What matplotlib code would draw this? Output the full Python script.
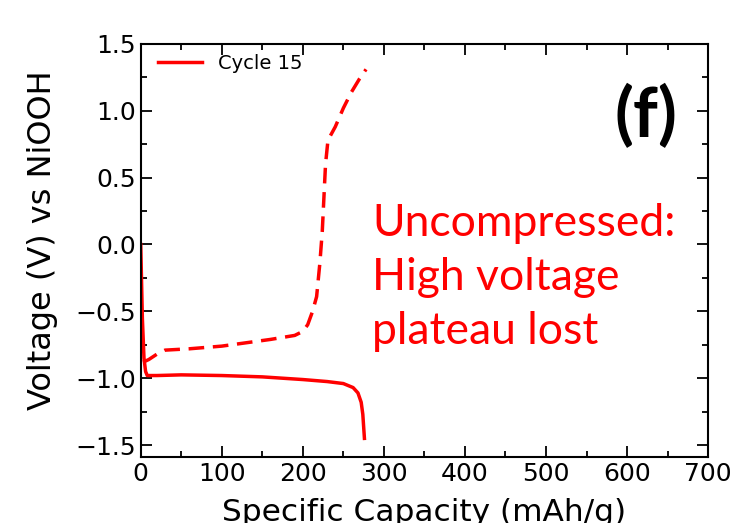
import matplotlib
matplotlib.use("Agg")
import matplotlib.pyplot as plt
from matplotlib.ticker import MultipleLocator

# discharge (solid) and charge (dashed) curves
dis_cap = [0, 2, 4, 6, 8, 20, 50, 100, 150, 200, 230, 250, 262, 268, 272, 274, 275, 276]
dis_v = [0.0, -0.55, -0.85, -0.95, -0.98, -0.98, -0.975, -0.98, -0.99, -1.01, -1.025, -1.04, -1.07, -1.11, -1.18, -1.27, -1.36, -1.45]

chg_cap = [3, 10, 20, 30, 60, 100, 160, 190, 200, 206, 212, 217, 221, 224, 226, 228, 231, 240, 250, 260, 270, 278]
chg_v = [-0.88, -0.86, -0.82, -0.79, -0.78, -0.76, -0.71, -0.68, -0.65, -0.6, -0.5, -0.39, -0.14, 0.1, 0.35, 0.6, 0.78, 0.88, 1.02, 1.14, 1.24, 1.31]

legend_label = "Cycle 15"
panel_tag = "(f)"
note = "Uncompressed:\nHigh voltage\nplateau lost"

fig = plt.figure(figsize=(7.33, 5.23), dpi=100)
ax = fig.add_axes([0.192, 0.126, 0.774, 0.790])

ax.plot(dis_cap, dis_v, color="red", lw=2.5, label=legend_label)
ax.plot(chg_cap, chg_v, color="red", lw=2.5, ls=(0, (4.5, 2.5)))

ax.set_xlim(0, 700)
ax.set_ylim(-1.59, 1.5)
ax.xaxis.set_major_locator(MultipleLocator(100))
ax.xaxis.set_minor_locator(MultipleLocator(50))
ax.yaxis.set_major_locator(MultipleLocator(0.5))
ax.yaxis.set_minor_locator(MultipleLocator(0.25))
ax.tick_params(which="both", direction="in", top=True, right=True, labelsize=18, width=1.3)
ax.tick_params(which="major", length=8)
ax.tick_params(which="minor", length=4)
for s in ax.spines.values():
    s.set_linewidth(1.5)

ax.set_xlabel("Specific Capacity (mAh/g)", fontsize=22.5)
ax.xaxis.set_label_coords(0.5, -0.1, transform=ax.transAxes)
ax.xaxis.label.set_va("top")
ax.set_ylabel("Voltage (V) vs NiOOH", fontsize=23)
ax.yaxis.set_label_coords(-0.173, 0.525)
ax.yaxis.label.set_va("center")

ax.legend(loc="upper left", frameon=False, fontsize=14, handlelength=2.3,
          borderaxespad=0.0, borderpad=0.0, handletextpad=0.8,
          bbox_to_anchor=(0.03, 0.975))

fig.text(0.924, 0.738, panel_tag, fontsize=50, fontweight="bold", ha="right",
         va="baseline", family=["Lato", "DejaVu Sans"])
fig.text(0.508, 0.612, note, fontsize=32, color="red", ha="left", va="top",
         linespacing=1.4, family=["Lato", "DejaVu Sans"])

fig.savefig("out.png", dpi=100)
